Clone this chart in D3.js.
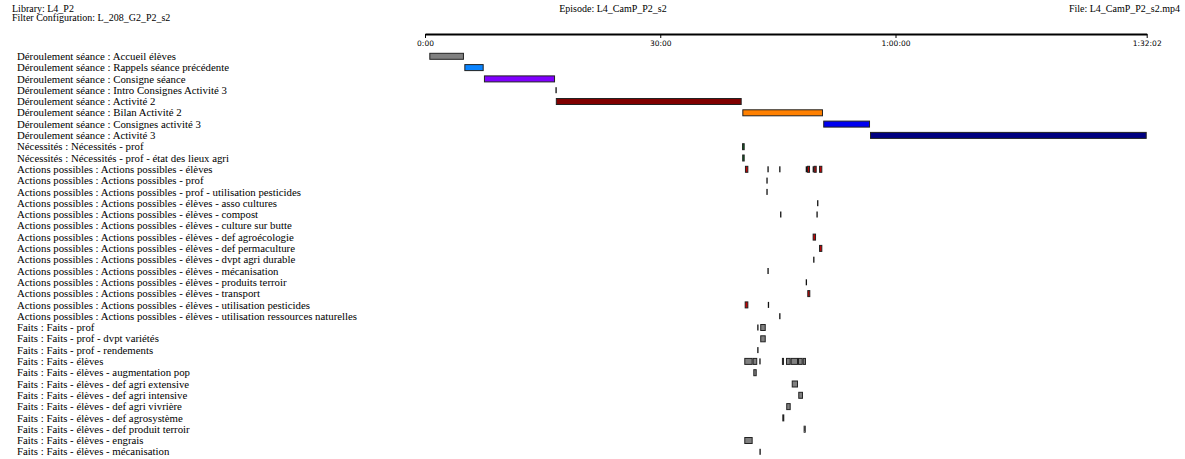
<!DOCTYPE html>
<html><head><meta charset="utf-8">
<script src="https://cdn.jsdelivr.net/npm/d3@7"></script>
<style>body{margin:0;background:#fff}svg{display:block}</style>
</head><body><svg id="c" width="1185" height="459"></svg>
<script>
// ---- data ----
const headerLeft = ["Library: L4_P2", "Filter Configuration: L_208_G2_P2_s2"];
const headerCenter = "Episode: L4_CamP_P2_s2";
const headerRight = "File: L4_CamP_P2_s2.mp4";
const durationSec = 5522;
const tickValues = [0, 1800, 3600, 5522];
const tickLabels = ["0:00", "30:00", "1:00:00", "1:32:02"];

const rows = [
  "Déroulement séance : Accueil élèves",
  "Déroulement séance : Rappels séance précédente",
  "Déroulement séance : Consigne séance",
  "Déroulement séance : Intro Consignes Activité 3",
  "Déroulement séance : Activité 2",
  "Déroulement séance : Bilan Activité 2",
  "Déroulement séance : Consignes activité 3",
  "Déroulement séance : Activité 3",
  "Nécessités : Nécessités - prof",
  "Nécessités : Nécessités - prof - état des lieux agri",
  "Actions possibles : Actions possibles - élèves",
  "Actions possibles : Actions possibles - prof",
  "Actions possibles : Actions possibles - prof - utilisation pesticides",
  "Actions possibles : Actions possibles - élèves - asso cultures",
  "Actions possibles : Actions possibles - élèves - compost",
  "Actions possibles : Actions possibles - élèves - culture sur butte",
  "Actions possibles : Actions possibles - élèves - def agroécologie",
  "Actions possibles : Actions possibles - élèves - def permaculture",
  "Actions possibles : Actions possibles - élèves - dvpt agri durable",
  "Actions possibles : Actions possibles - élèves - mécanisation",
  "Actions possibles : Actions possibles - élèves - produits terroir",
  "Actions possibles : Actions possibles - élèves - transport",
  "Actions possibles : Actions possibles - élèves - utilisation pesticides",
  "Actions possibles : Actions possibles - élèves - utilisation ressources naturelles",
  "Faits : Faits - prof",
  "Faits : Faits - prof - dvpt variétés",
  "Faits : Faits - prof - rendements",
  "Faits : Faits - élèves",
  "Faits : Faits - élèves - augmentation pop",
  "Faits : Faits - élèves - def agri extensive",
  "Faits : Faits - élèves - def agri intensive",
  "Faits : Faits - élèves - def agri vivrière",
  "Faits : Faits - élèves - def agrosystème",
  "Faits : Faits - élèves - def produit terroir",
  "Faits : Faits - élèves - engrais",
  "Faits : Faits - élèves - mécanisation"
];

// [row index, start seconds, end seconds, colour]
const deroulementEvents = [
  [0, 33, 298, "#808080"],
  [1, 301, 449, "#0a84ff"],
  [2, 451, 995, "#8000ff"],
  [3, 998, 1003, "#000000"],
  [4, 1001, 2423, "#800000"],
  [5, 2428, 3045, "#ff8000"],
  [6, 3047, 3405, "#0000f0"],
  [7, 3405, 5522, "#000080"]
];
const necessitesColor = "#0b6a24";
const necessitesEvents = [
  [8, 2426, 2446],
  [9, 2427, 2446]
];
const actionsColor = "#c80000";
const actionsEvents = [
  [10, 2448, 2474], [10, 2620, 2627], [10, 2710, 2717], [10, 2913, 2920],
  [10, 2923, 2946], [10, 2966, 2973], [10, 2974, 2997], [10, 3015, 3040],
  [11, 2612, 2619],
  [12, 2612, 2619],
  [13, 3000, 3007],
  [14, 2717, 2724], [14, 2995, 3002],
  [16, 2966, 2992],
  [17, 3015, 3040],
  [18, 2970, 2977],
  [19, 2620, 2627],
  [20, 2913, 2922],
  [21, 2925, 2948],
  [22, 2446, 2474], [22, 2623, 2630],
  [23, 2710, 2717]
];
const faitsColor = "#808080";
const faitsEvents = [
  [24, 2542, 2553], [24, 2565, 2607],
  [25, 2565, 2607],
  [26, 2542, 2552],
  [27, 2443, 2507], [27, 2507, 2542], [27, 2558, 2565], [27, 2731, 2747],
  [27, 2762, 2798], [27, 2798, 2854], [27, 2854, 2890], [27, 2890, 2915],
  [28, 2512, 2538],
  [29, 2806, 2854],
  [30, 2856, 2892],
  [31, 2764, 2798],
  [32, 2734, 2749],
  [33, 2897, 2913],
  [34, 2443, 2507],
  [35, 2559, 2567]
];

// ---- drawing ----
const svg = d3.select("#c");
const x = d3.scaleLinear().domain([0, durationSec]).range([425, 1146.7]);
const rowStep = 11.3;
const y = d3.scaleBand().domain(rows).range([50.65, 50.65 + rows.length * rowStep]).padding(0);
const cy = i => y(rows[i]) + y.bandwidth() / 2;

const serif = "'Liberation Serif', 'Times New Roman', serif";

// header
svg.selectAll("text.hl").data(headerLeft).join("text")
  .attr("class", "hl").attr("x", 12).attr("y", (d, i) => 12 + i * 9)
  .attr("font-family", serif).attr("font-size", 10).attr("fill", "#000").text(d => d);
svg.append("text").attr("x", 613).attr("y", 12).attr("text-anchor", "middle")
  .attr("font-family", serif).attr("font-size", 10).text(headerCenter);
svg.append("text").attr("x", 1180).attr("y", 12).attr("text-anchor", "end")
  .attr("font-family", serif).attr("font-size", 10).text(headerRight);

// axis
const axis = d3.axisBottom(x).tickValues(tickValues)
  .tickFormat((d, i) => tickLabels[i]).tickSize(4).tickSizeOuter(0).tickPadding(3);
const ag = svg.append("g").attr("transform", "translate(0,34)").call(axis);
ag.select(".domain").attr("stroke", "#000").attr("stroke-width", 2);
ag.selectAll(".tick line").attr("stroke", "#000");
ag.selectAll(".tick text").attr("font-family", "'DejaVu Sans', Verdana, sans-serif")
  .attr("font-size", 7.5).attr("fill", "#000");

// row labels
svg.append("g").selectAll("text").data(rows).join("text")
  .attr("x", 17).attr("y", d => y(d) + y.bandwidth() / 2 + 3.6)
  .attr("font-family", serif).attr("font-size", 10.8).attr("fill", "#000")
  .text(d => d);

// events
const all = [
  ...deroulementEvents.map(e => ({r: e[0], s: e[1], t: e[2], c: e[3]})),
  ...necessitesEvents.map(e => ({r: e[0], s: e[1], t: e[2], c: necessitesColor})),
  ...actionsEvents.map(e => ({r: e[0], s: e[1], t: e[2], c: actionsColor})),
  ...faitsEvents.map(e => ({r: e[0], s: e[1], t: e[2], c: faitsColor}))
];
const barH = 6;
const thin = d => x(d.t) - x(d.s) < 1.6;
svg.append("g").selectAll("rect").data(all).join("rect")
  .attr("x", d => thin(d) ? x(d.s) : x(d.s) + 0.5)
  .attr("y", d => cy(d.r) - barH / 2)
  .attr("width", d => thin(d) ? 1.3 : x(d.t) - x(d.s) - 1)
  .attr("height", barH)
  .attr("fill", d => thin(d) ? "#111" : d.c)
  .attr("stroke", d => thin(d) ? "none" : "#222")
  .attr("stroke-width", 1);
</script></body></html>
